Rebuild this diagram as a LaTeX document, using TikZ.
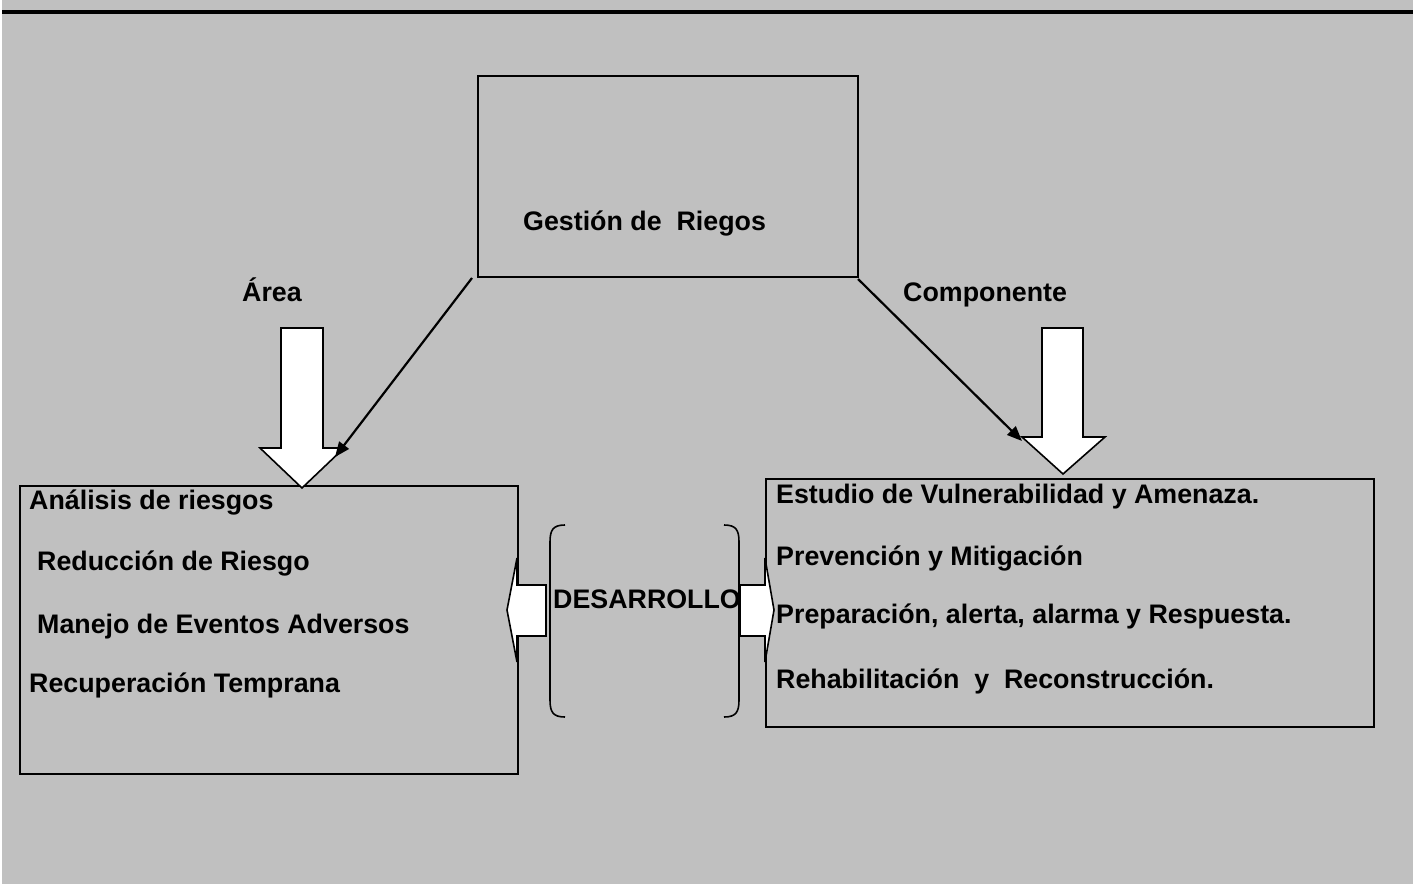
\documentclass[tikz,border=0pt]{standalone}
\usepackage{fontspec}
\setmainfont{Liberation Sans}
\usetikzlibrary{arrows.meta}
\definecolor{bg}{HTML}{C0C0C0}
\tikzset{
  lbl/.style={anchor=base west, inner sep=0pt, font=\fontsize{26.8}{30}\selectfont\bfseries},
  frame/.style={draw=black, line width=1.6pt},
  blockarrow/.style={draw=black, fill=white, line width=1.6pt, line join=miter},
  link/.style={draw=black, line width=2.2pt, -{Triangle[length=15pt,width=12pt]}},
  brace/.style={draw=black, line width=1.6pt}
}
\begin{document}
\begin{tikzpicture}[x=1pt,y=-1pt]
\useasboundingbox (0,0) rectangle (1413,888);
\fill[bg] (2,0) rectangle (1413,884);
\draw[line width=3.5pt] (2,12) -- (1413,12);

% top box
\node[frame, minimum width=380pt, minimum height=201pt, anchor=north west, inner sep=0pt] (top) at (477,75) {};
\node[lbl] (gest) at (523,230) {Gestión de~~Riegos};

% side labels
\node[lbl] (area) at (242,301) {Área};
\node[lbl] (comp) at (903,301) {Componente};

% left and right boxes
\node[frame, minimum width=498pt, minimum height=288pt, anchor=north west, inner sep=0pt] (lbox) at (19,485) {};
\node[frame, minimum width=608pt, minimum height=248pt, anchor=north west, inner sep=0pt] (rbox) at (765,478) {};

% left box texts
\node[lbl] (l1) at (29,509) {Análisis de riesgos};
\node[lbl] (l2) at (37,570) {Reducción de Riesgo};
\node[lbl] (l3) at (37,633) {Manejo de Eventos Adversos};
\node[lbl] (l4) at (29,692) {Recuperación Temprana};

% right box texts
\node[lbl] (r1) at (776,503) {Estudio de Vulnerabilidad y Amenaza.};
\node[lbl] (r2) at (776,565) {Prevención y Mitigación};
\node[lbl] (r3) at (776,623) {Preparación, alerta, alarma y Respuesta.};
\node[lbl] (r4) at (776,688) {Rehabilitación~~y~~Reconstrucción.};

% DESARROLLO
\node[lbl] (des) at (553,608) {DESARROLLO};

% down block arrows
\draw[blockarrow] (281,328) -- (323,328) -- (323,448) -- (344,448) -- (302,488) -- (260,448) -- (281,448) -- cycle;
\draw[blockarrow] (1042,328) -- (1083,328) -- (1083,437) -- (1105,437) -- (1063,474) -- (1022,437) -- (1042,437) -- cycle;

% horizontal block arrows
\draw[blockarrow] (546,585) -- (517,585) -- (517,558) -- (507,610) -- (517,662) -- (517,636) -- (546,636) -- cycle;
\draw[blockarrow] (740,585) -- (765,585) -- (765,558) -- (774,610) -- (765,662) -- (765,636) -- (740,636) -- cycle;

% brackets
\draw[brace] (565,525) .. controls (553,525) and (550,530) .. (550,542) -- (550,700) .. controls (550,712) and (553,717) .. (565,717);
\draw[brace] (724,525) .. controls (736,525) and (739,530) .. (739,542) -- (739,700) .. controls (739,712) and (736,717) .. (724,717);

% connectors
\coordinate (ls) at (472,278);
\coordinate (le) at (335,457);
\coordinate (rs) at (858,279);
\coordinate (re) at (1022,441);
\draw[link] (ls) -- (le);
\draw[link] (rs) -- (re);
\end{tikzpicture}
\end{document}
